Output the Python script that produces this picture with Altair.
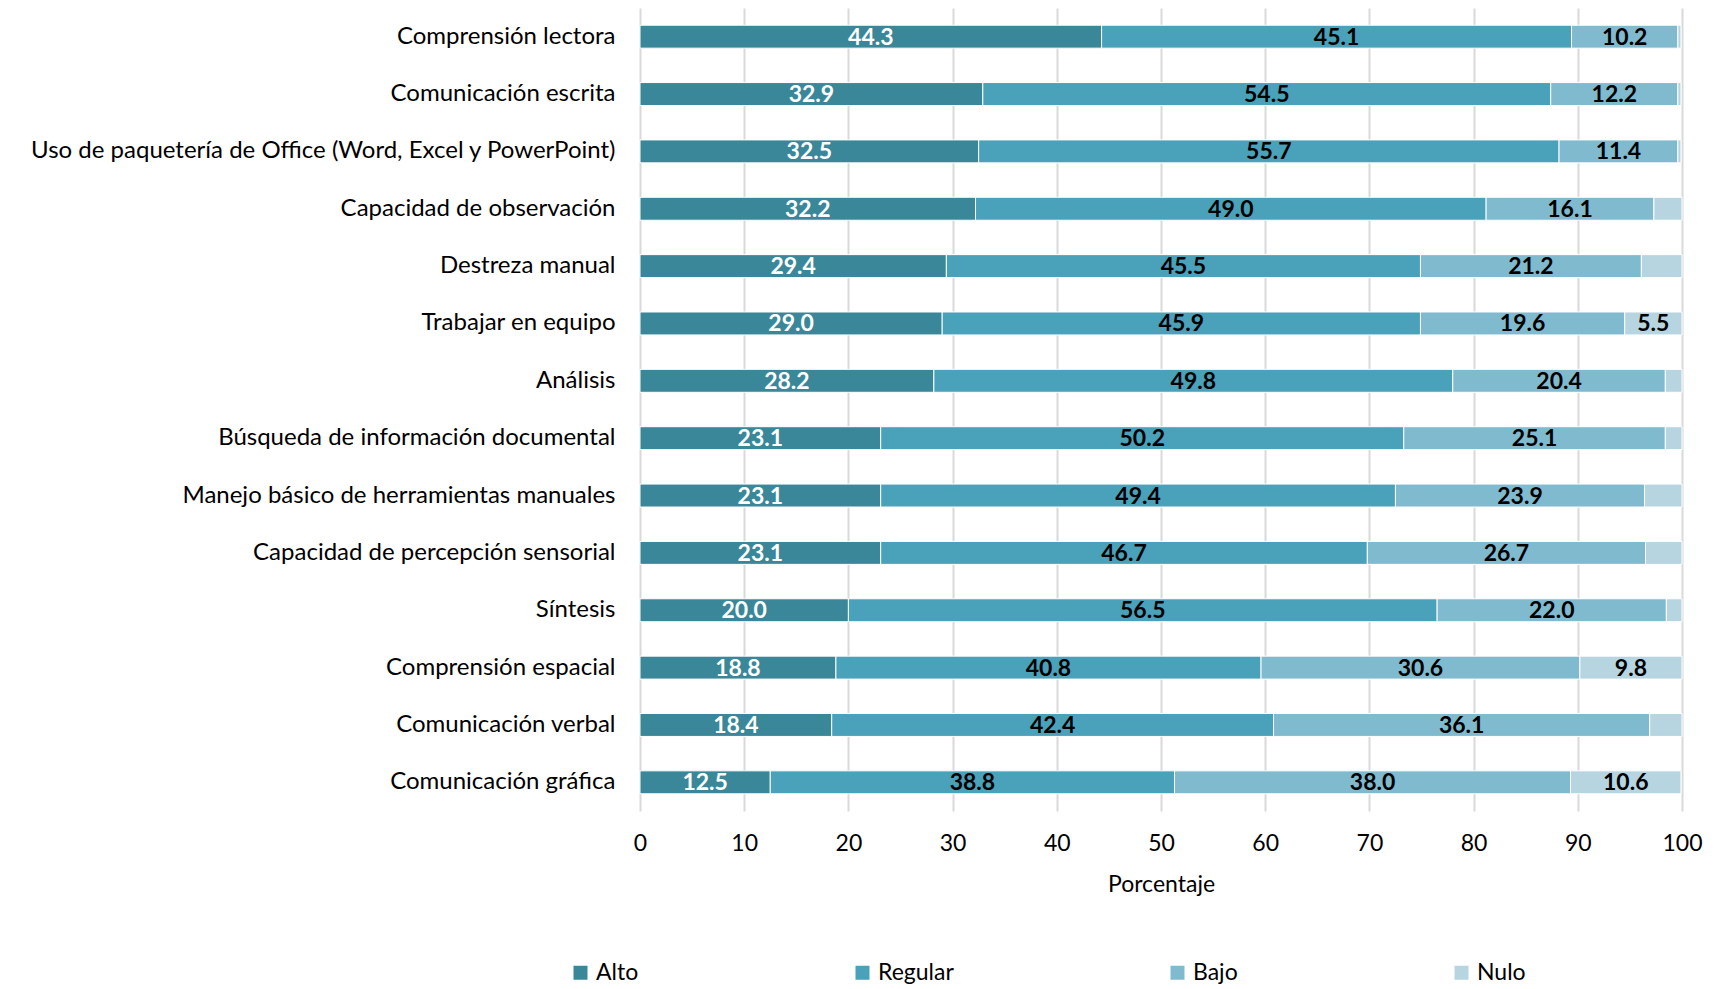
import altair as alt
import pandas as pd

skills = [
    "Comprensión lectora",
    "Comunicación escrita",
    "Uso de paquetería de Office (Word, Excel y PowerPoint)",
    "Capacidad de observación",
    "Destreza manual",
    "Trabajar en equipo",
    "Análisis",
    "Búsqueda de información documental",
    "Manejo básico de herramientas manuales",
    "Capacidad de percepción sensorial",
    "Síntesis",
    "Comprensión espacial",
    "Comunicación verbal ",
    "Comunicación gráfica",
]
alto = [44.3, 32.9, 32.5, 32.2, 29.4, 29.0, 28.2, 23.1, 23.1, 23.1, 20.0, 18.8, 18.4, 12.5]
regular = [45.1, 54.5, 55.7, 49.0, 45.5, 45.9, 49.8, 50.2, 49.4, 46.7, 56.5, 40.8, 42.4, 38.8]
bajo = [10.2, 12.2, 11.4, 16.1, 21.2, 19.6, 20.4, 25.1, 23.9, 26.7, 22.0, 30.6, 36.1, 38.0]
nulo = [0.3, 0.3, 0.3, 2.7, 3.9, 5.5, 1.6, 1.6, 3.6, 3.5, 1.5, 9.8, 3.1, 10.6]

levels = ["Alto", "Regular", "Bajo", "Nulo"]
colors = ["#3A8799", "#49A1BA", "#7FBACE", "#B7D5E0"]
label_colors = ["white", "black", "black", "black"]

rows = []
for i, s in enumerate(skills):
    for j, (lvl, vals) in enumerate(zip(levels, [alto, regular, bajo, nulo])):
        rows.append({"skill": s, "level": lvl, "order": j, "value": vals[i],
                     "tcolor": label_colors[j]})
df = pd.DataFrame(rows)

FONT = "Lato"

base = alt.Chart(df).transform_stack(
    stack="value", groupby=["skill"], sort=[alt.SortField("order")], as_=["v0", "v1"]
).transform_calculate(mid="(datum.v0 + datum.v1) / 2")

y = alt.Y("skill:N", sort=skills, title=None,
          scale=alt.Scale(paddingInner=0.6, paddingOuter=0.3),
          axis=alt.Axis(labelFont=FONT, labelFontSize=24, labelColor="black",
                        labelLimit=800, labelPadding=25, ticks=False, domain=False,
                        minExtent=627, maxExtent=627, grid=False))

bars = base.mark_bar(stroke="white", strokeWidth=1).encode(
    x=alt.X("v0:Q", scale=alt.Scale(domain=[0, 100]), title="Porcentaje",
            axis=alt.Axis(values=list(range(0, 101, 10)), grid=True, gridColor="#D9D9D9",
                          gridWidth=2, ticks=False, domain=False, labelFont=FONT,
                          labelFontSize=23, labelColor="black", labelPadding=21,
                          labelFlush=False,
                          titleFont=FONT, titleFontSize=23, titleFontWeight="normal",
                          titleColor="black", titlePadding=18)),
    x2="v1:Q",
    y=y,
    color=alt.Color("level:N", sort=levels,
                    scale=alt.Scale(domain=levels, range=colors),
                    legend=alt.Legend(title=None, orient="none", direction="horizontal",
                                      legendX=-71, legendY=953, symbolType="square",
                                      symbolSize=196, symbolStrokeWidth=0,
                                      labelFont=FONT, labelFontSize=23, labelColor="black",
                                      columnPadding=212, labelOffset=4, padding=0)),
)

texts = base.transform_filter(
    "datum.level != 'Nulo' || datum.value >= 5"
).mark_text(font=FONT, fontSize=23, fontWeight="bold", baseline="middle", dy=1).encode(
    x=alt.X("mid:Q"),
    y=alt.Y("skill:N", sort=skills),
    text=alt.Text("value:Q", format=".1f"),
    color=alt.Color("tcolor:N", scale=None),
)

chart = alt.layer(bars, texts).properties(
    width=1042, height=803,
    padding={"left": 5, "top": 0, "right": 5, "bottom": 5},
).configure_view(stroke=None)

chart.save("out.html", embed_options={"renderer": "svg", "actions": False})
